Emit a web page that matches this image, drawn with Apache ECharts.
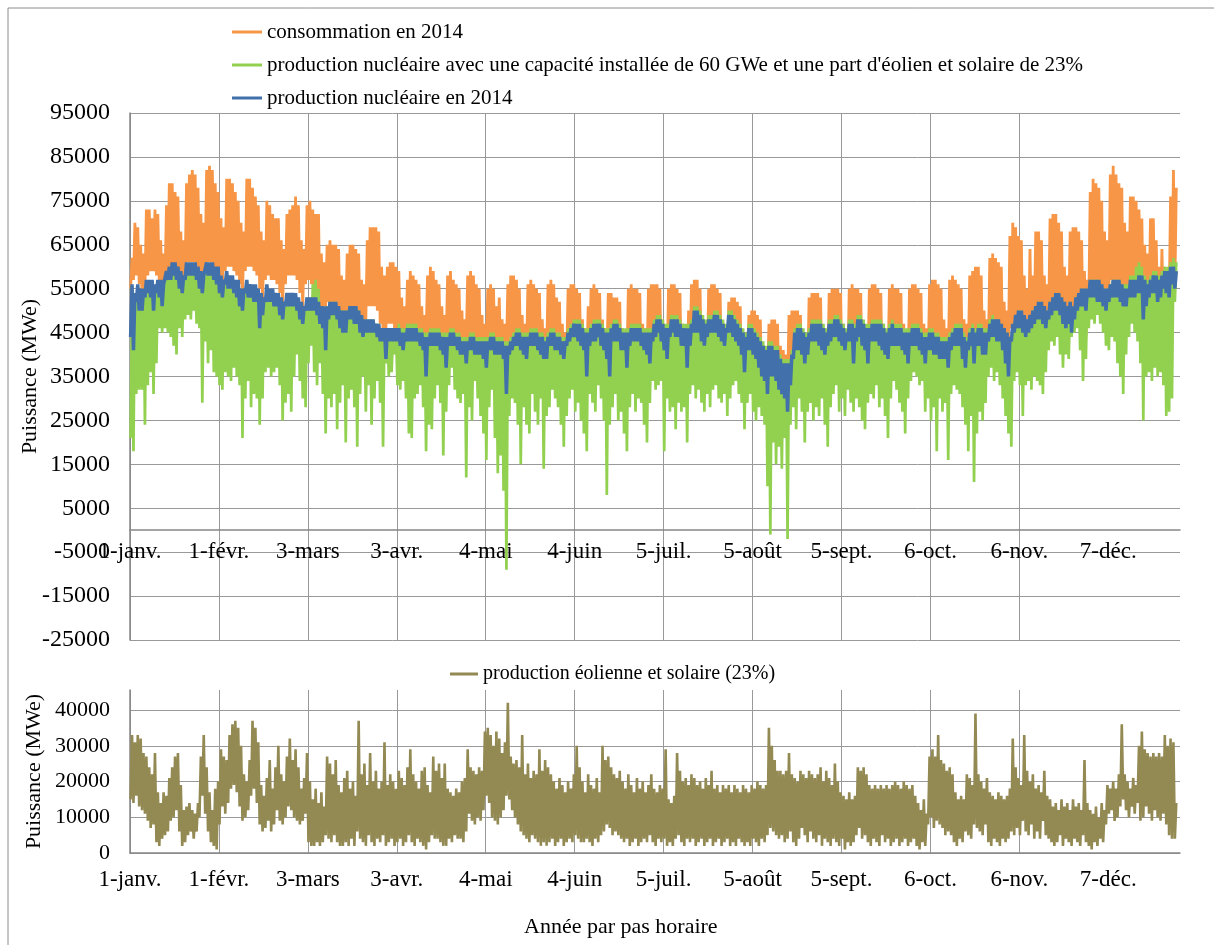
<!DOCTYPE html>
<html>
<head>
<meta charset="utf-8">
<script src="https://cdn.jsdelivr.net/npm/echarts@6/dist/echarts.min.js"></script>
<style>
  html, body { margin: 0; padding: 0; background: #fff; }
  #chart { width: 1214px; height: 945px; }
</style>
</head>
<body>
<div id="chart"></div>
<script>
// Valeurs journalières, en GWe (x1000 = MWe).
// Une ligne = une semaine (mer. -> mar.), le 1er janvier 2014 étant un mercredi.
const tickHours = [0, 744, 1488, 2232, 2976, 3720, 4464, 5208, 5952, 6696, 7440, 8184];
const monthLabels = ['1-janv.', '1-févr.', '3-mars', '3-avr.', '4-mai', '4-juin', '5-juil.', '5-août', '5-sept.', '6-oct.', '6-nov.', '7-déc.'];

const consoMax = [
  62,70,69,65,63,73,73, 71,73,72,66,63,74,79, 79,77,76,68,66,79,81, 82,81,78,72,70,82,83,
  82,79,77,71,69,80,80, 79,77,75,70,68,80,80, 78,76,74,68,66,75,74, 72,71,71,66,64,72,73,
  74,76,74,66,64,74,75, 73,72,72,63,61,65,66, 65,65,64,58,57,63,65, 65,64,63,57,56,66,69,
  69,69,68,60,58,60,61, 61,60,59,53,51,57,59, 58,57,56,51,49,58,60, 59,57,56,51,49,58,59,
  57,56,55,50,48,58,59, 58,56,55,49,47,55,56, 55,51,53,48,47,56,58, 58,57,55,49,47,56,57,
  56,55,54,48,46,56,57, 56,53,52,47,45,55,56, 56,55,54,48,46,51,55, 56,55,54,48,46,54,54,
  53,53,52,46,45,55,56, 55,55,54,47,46,55,56, 56,56,55,48,46,55,56, 56,55,54,47,45,50,56,
  57,57,55,47,45,55,56, 56,55,54,47,45,52,53, 53,52,51,45,43,49,50, 50,49,48,42,41,47,48,
  48,47,42,41,40,49,50, 50,50,49,43,42,53,54, 54,54,53,46,45,54,55, 55,55,54,47,45,55,56,
  55,55,54,47,45,55,56, 56,55,54,47,45,55,56, 55,55,54,47,45,55,56, 56,55,54,47,46,56,57,
  57,56,55,48,46,57,58, 57,56,55,48,47,58,59, 60,60,58,50,48,62,63, 62,61,60,52,50,67,70,
  69,67,66,58,55,64,58, 68,68,66,58,56,71,72, 72,70,68,60,58,68,69, 69,68,66,59,57,77,80,
  79,78,75,68,66,81,83, 81,79,78,70,68,76,76, 75,73,71,65,63,71,71, 66,60,64,60,58,76,82,
  78
];
const consoMin = [
  55,57,58,56,53,55,58, 59,59,58,56,53,57,59, 60,60,59,57,54,59,61, 61,61,60,58,55,60,61,
  61,60,59,57,54,59,60, 60,59,58,56,53,59,60, 60,59,58,55,52,57,58, 57,57,56,54,51,56,58,
  58,58,57,54,51,56,57, 56,55,54,51,48,51,52, 51,51,50,48,45,48,50, 50,50,49,46,44,48,51,
  51,51,50,47,44,46,47, 47,46,45,43,40,44,45, 45,44,44,42,39,44,45, 45,44,43,41,39,43,44,
  44,43,43,41,38,43,44, 43,42,42,40,37,41,42, 42,40,41,39,37,41,42, 42,41,41,39,36,40,41,
  41,40,40,38,36,40,41, 40,39,39,37,35,39,40, 40,39,39,37,35,37,39, 40,39,38,36,34,38,39,
  39,38,38,36,34,38,39, 39,38,38,36,34,38,39, 39,38,37,35,34,37,38, 38,37,37,35,33,35,37,
  38,37,36,35,33,37,38, 37,37,36,34,33,36,36, 36,35,35,33,32,34,35, 35,34,34,32,31,33,34,
  34,33,32,31,30,33,34, 35,35,34,32,31,35,36, 37,37,36,34,32,36,37, 38,38,37,35,33,37,38,
  38,38,37,35,33,37,38, 38,38,37,35,33,37,38, 38,38,37,35,33,37,38, 38,38,37,35,34,38,39,
  39,38,38,36,34,39,40, 40,39,39,37,35,40,41, 42,42,41,39,36,42,43, 43,43,42,40,38,43,46,
  47,47,46,43,41,45,44, 47,48,47,45,42,48,49, 50,49,48,46,43,48,49, 49,49,48,46,44,52,55,
  55,55,54,51,48,55,57, 57,56,55,52,49,54,55, 54,54,53,50,47,52,53, 51,49,48,47,45,51,54,
  55
];

const nuc14Max = [
  56,54,56,55,55,57,57, 57,56,57,57,56,59,60, 61,61,60,59,58,61,61, 61,61,60,59,58,61,61,
  61,60,60,58,57,59,58, 58,57,57,55,55,57,56, 56,56,55,54,53,56,55, 55,54,54,53,52,54,54,
  54,54,53,52,51,53,53, 53,53,52,51,51,51,52, 52,52,51,50,50,50,51, 51,51,50,49,48,48,48,
  48,47,47,46,46,46,46, 46,46,46,45,45,46,46, 46,46,45,45,44,44,45, 45,45,45,44,44,44,45,
  45,44,44,43,43,43,44, 44,43,43,43,43,43,44, 44,43,43,43,42,42,43, 44,45,45,44,44,44,45,
  45,45,44,44,43,44,45, 45,44,44,43,43,45,46, 47,47,47,46,45,45,46, 47,47,47,46,45,45,46,
  47,47,46,45,45,45,46, 46,46,46,45,45,45,45, 47,48,48,47,46,46,48, 48,48,47,46,46,46,47,
  50,50,49,48,47,48,48, 49,49,48,47,46,49,49, 48,47,46,45,44,46,46, 45,44,43,42,41,42,42,
  41,41,39,38,38,38,40, 45,46,46,45,44,45,47, 47,47,47,46,45,47,47, 48,48,47,46,45,47,47,
  46,48,48,47,46,46,47, 47,47,47,46,45,46,47, 46,46,46,45,45,45,46, 46,46,45,44,44,45,45,
  44,44,43,43,43,44,45, 46,46,46,44,43,45,46, 45,46,46,45,45,47,48, 48,48,47,46,45,44,47,
  49,50,50,49,48,49,50, 51,52,52,51,50,52,53, 54,54,53,52,51,52,51, 53,54,55,55,55,57,57,
  57,57,56,55,55,56,57, 57,57,56,55,55,57,57, 57,58,58,57,56,57,58, 58,57,58,59,59,60,60,
  59
];
const nuc14Min = [
  44,41,52,50,50,53,54, 53,50,54,53,51,56,57, 57,58,57,55,54,57,58, 58,58,57,55,54,58,58,
  58,57,56,54,53,56,55, 55,54,53,51,50,54,53, 53,52,52,46,49,52,52, 52,51,51,49,48,51,51,
  51,51,50,48,47,50,50, 50,50,49,47,46,41,48, 49,49,48,46,45,45,48, 48,47,47,45,44,45,45,
  45,45,44,43,43,39,43, 43,43,43,42,41,43,43, 43,43,43,42,41,35,42, 42,42,42,41,40,37,42,
  42,42,41,40,40,38,41, 41,40,40,40,39,37,41, 41,40,40,40,39,31,40, 41,42,42,41,40,39,42,
  42,42,41,40,39,39,42, 42,41,41,40,39,42,43, 44,44,43,42,41,35,42, 43,43,44,42,41,39,35,
  43,43,43,41,41,37,42, 43,43,43,42,41,40,38, 43,44,45,43,41,39,44, 45,44,44,42,42,37,42,
  45,45,45,43,42,44,45, 45,45,44,43,42,45,45, 44,43,42,40,36,41,41, 40,39,37,35,34,31,35,
  35,34,32,31,30,27,33, 39,41,41,40,38,40,43, 43,43,42,41,40,42,43, 44,44,43,42,41,43,43,
  38,43,44,42,41,38,43, 43,43,42,41,40,39,42, 42,42,42,41,40,38,42, 42,42,41,40,38,41,41,
  40,40,39,39,39,37,41, 42,42,42,39,37,41,42, 38,42,42,40,40,43,44, 44,43,43,41,38,35,43,
  45,46,46,45,44,45,46, 47,48,48,47,46,48,49, 50,50,49,47,46,47,45, 48,50,51,51,50,53,53,
  53,52,52,51,50,52,53, 53,53,52,51,51,53,53, 53,54,54,48,51,53,54, 54,52,53,55,54,53,56,
  55
];

const nuc60Max = [
  55,53,55,54,54,56,56, 56,55,56,56,55,58,59, 60,60,59,58,57,60,60, 60,60,59,58,57,60,60,
  60,59,59,57,56,58,57, 57,56,56,54,54,56,55, 55,55,54,53,52,55,54, 54,53,53,52,51,53,53,
  53,53,52,51,51,53,53, 56,57,55,51,51,51,52, 52,52,51,50,50,50,51, 51,51,50,49,48,48,48,
  48,47,47,46,46,46,46, 46,46,47,46,46,47,47, 47,47,46,46,45,45,46, 46,46,46,45,45,45,46,
  46,45,45,44,44,44,45, 45,44,44,44,44,44,45, 45,44,44,44,43,43,44, 45,46,46,45,45,45,46,
  46,46,45,45,44,45,46, 46,45,45,44,44,46,47, 48,48,48,47,46,46,47, 48,48,48,47,46,46,47,
  48,48,47,46,46,46,47, 47,47,47,46,46,46,46, 48,49,49,48,47,47,49, 49,49,48,47,47,47,48,
  51,51,50,49,48,49,49, 50,50,49,48,47,50,50, 49,48,47,46,45,47,47, 46,45,44,43,42,43,43,
  42,42,40,39,39,39,41, 46,47,47,46,45,46,48, 48,48,48,47,46,48,48, 49,49,48,47,46,48,48,
  47,49,49,48,47,47,48, 48,48,48,47,46,47,48, 47,47,47,46,46,46,47, 47,47,46,45,45,46,46,
  45,45,44,44,44,45,46, 47,47,47,45,44,46,47, 46,47,47,46,46,48,49, 48,48,47,46,45,44,47,
  49,50,50,49,48,49,50, 51,52,52,51,50,52,53, 54,54,53,52,51,52,51, 53,54,55,55,55,57,57,
  57,57,56,55,55,56,57, 57,57,56,56,56,58,58, 60,61,60,58,57,58,59, 59,58,59,60,60,61,62,
  61
];
const nuc60Min = [
  21,18,31,32,32,24,33, 36,31,38,46,45,46,45, 44,42,40,46,44,48,49, 48,50,47,46,29,43,38,
  41,36,35,33,32,36,35, 34,37,35,33,21,30,34, 28,31,30,24,30,36,37, 35,36,37,33,25,29,31,
  27,35,40,34,30,28,38, 42,36,33,38,31,22,30, 28,31,23,29,33,20,30, 32,28,19,31,35,27,33,
  24,30,34,29,19,38,35, 36,40,33,32,34,30,22, 21,30,31,33,28,18,24, 23,30,33,29,17,27,33,
  37,32,30,29,31,12,28, 25,34,30,26,22,16,28, 32,21,13,17,9,-9,26, 30,29,24,15,28,24,22,
  31,27,24,30,14,26,28, 32,30,28,24,19,26,30, 32,27,29,25,22,18,31, 29,27,33,30,25,8,24,
  28,31,25,27,22,18,28, 31,27,30,29,24,20,29, 34,32,33,34,18,30,27, 28,23,29,27,28,20,31,
  33,30,32,29,27,31,28, 32,33,30,29,31,26,30, 33,34,31,29,23,29,31, 27,25,28,26,24,10,-1,
  20,15,19,14,21,-2,24, 28,23,30,27,20,27,29, 25,28,26,30,24,19,28, 31,33,27,30,26,32,29,
  27,30,28,25,23,29,31, 30,33,28,30,26,21,30, 34,32,29,27,22,30,34, 36,35,33,34,27,30,25,
  28,18,30,27,29,16,31, 33,32,31,28,24,18,26, 11,22,27,25,29,35,37, 34,36,33,30,26,22,19,
  34,36,33,26,33,34,32, 35,34,33,31,36,41,43, 42,44,40,37,40,39,44, 45,46,41,34,39,46,48,
  47,49,47,45,42,41,44, 43,38,35,31,40,44,47, 45,43,38,25,35,36,34, 37,35,36,33,26,27,30,
  52
];

const renewMax = [
  33,31,33,32,28,27,24, 22,28,17,14,17,16,21, 24,27,28,19,12,13,14, 12,11,14,27,33,24,17,
  12,18,20,29,27,26,33, 36,37,35,30,22,20,26, 37,35,31,19,16,21,26, 18,24,30,22,20,27,32,
  26,29,24,18,21,28,20, 15,18,14,17,13,27,25, 22,26,19,17,21,23,18, 20,16,37,22,25,19,28,
  20,23,18,20,31,19,22, 20,18,23,21,19,24,29, 22,20,18,23,24,19,17, 27,23,25,21,25,18,17,
  16,18,17,20,21,29,24, 23,22,24,23,34,35,33, 30,34,32,28,31,42,27, 25,26,24,33,22,25,21,
  23,22,29,23,26,24,22, 20,18,21,19,17,20,18, 22,30,24,20,17,22,19, 18,21,17,30,26,27,24,
  22,21,23,20,18,22,19, 17,21,18,20,17,19,22, 18,17,19,18,29,15,14, 16,28,23,20,21,19,22,
  21,19,20,18,21,19,23, 18,19,17,19,18,19,17, 19,18,17,19,18,17,19, 18,20,19,18,19,35,30,
  26,23,23,22,23,28,22, 21,20,23,22,21,23,22, 21,22,24,20,23,21,19, 25,20,17,16,15,17,15,
  16,24,23,24,22,19,18, 19,18,19,18,19,18,19, 20,19,18,20,19,18,19, 16,14,12,15,11,27,29,
  27,33,26,25,23,24,22, 17,15,16,15,22,21,19, 39,22,20,18,21,17,16, 15,17,16,15,16,18,32,
  24,21,19,33,23,20,22, 18,19,17,23,16,15,13, 14,12,15,13,14,12,15, 13,14,12,26,14,12,11,
  13,10,14,12,19,18,20, 18,22,36,22,20,18,21, 19,30,34,29,28,27,28, 27,28,27,33,30,32,31,
  14
];
const renewMin = [
  15,14,16,13,12,11,9, 7,8,3,2,4,5,6, 9,10,12,6,2,3,5, 6,4,6,10,16,11,6,
  3,2,1,8,13,11,14, 18,19,17,13,9,10,12, 16,18,14,8,6,7,9, 6,8,12,9,8,10,13,
  12,10,9,8,9,11,3, 2,2,3,2,3,5,4, 3,5,3,2,2,3,2, 4,2,6,4,3,2,5,
  3,2,4,3,5,2,3, 4,2,3,4,2,3,5, 3,2,4,3,2,1,3, 5,4,4,3,2,2,4,
  3,5,4,4,3,6,11, 9,8,10,9,12,16,14, 10,9,8,10,12,16,15, 12,10,8,6,5,4,3,
  5,4,3,2,3,2,3, 4,2,3,4,2,3,4, 3,5,4,3,3,4,3, 2,4,3,5,6,8,7,
  5,6,5,4,3,4,2, 3,4,2,3,4,3,5, 3,2,4,3,4,2,3, 2,4,5,3,2,4,3,
  4,2,3,4,2,3,4, 2,3,4,2,3,4,2, 3,2,4,3,2,3,2, 4,3,2,4,3,5,7,
  6,5,4,5,3,4,6, 3,2,4,7,5,3,6, 4,3,5,2,4,3,2, 4,3,2,4,1,3,2,
  3,5,7,4,5,3,2, 4,3,2,5,3,4,2, 3,4,2,3,4,2,3, 4,2,1,3,2,8,10,
  7,9,8,7,5,6,5, 3,2,4,3,6,5,4, 8,7,6,5,8,3,2, 4,3,2,4,3,4,6,
  5,7,5,9,6,5,8, 4,6,4,9,5,4,3, 2,3,5,2,4,3,2, 4,3,2,5,3,2,1,
  3,2,4,3,8,11,12, 9,10,13,15,12,10,13, 11,14,9,10,13,11,9, 12,10,9,11,8,5,4,
  4
];

const serif = "'Liberation Serif', 'Times New Roman', serif";
const gridColor = '#999999';
const axisColor = '#868686';

// creux de la nuit puis pointe de la journée, pour chaque jour
function dailyPoints(lows, highs) {
  const pts = [];
  for (let d = 0; d < lows.length; d++) {
    pts.push([d * 24 + 5, lows[d] * 1000]);
    pts.push([d * 24 + 17, highs[d] * 1000]);
  }
  return pts;
}

const monthLabel = (v) => {
  const i = tickHours.indexOf(v);
  return i >= 0 ? monthLabels[i] : '';
};

const xAxisBase = (gridIndex, margin, offset) => ({
  gridIndex,
  type: 'value',
  min: 0,
  max: 8784,
  offset,
  axisLine: { show: true, onZero: false, lineStyle: { color: axisColor, width: 1.5 } },
  axisTick: { show: false, customValues: tickHours },
  axisLabel: {
    customValues: tickHours,
    formatter: monthLabel,
    color: '#000',
    fontSize: 23,
    fontFamily: serif,
    margin,
  },
  splitLine: { show: true, showMaxLine: false, lineStyle: { color: gridColor, width: 1 } },
});

const chart = echarts.init(document.getElementById('chart'));
chart.setOption({
  animation: false,
  backgroundColor: '#fff',
  title: {
    text: 'Année par pas horaire',
    left: 524,
    top: 916,
    padding: 0,
    textStyle: { fontFamily: serif, fontSize: 22, fontWeight: 'normal', color: '#000' },
  },
  legend: [
    {
      data: ['consommation en 2014',
        "production nucléaire avec une capacité installée de 60 GWe et une part d'éolien et solaire de 23%",
        'production nucléaire en 2014'],
      orient: 'vertical',
      left: 232,
      top: 20,
      icon: 'rect',
      itemWidth: 30,
      itemHeight: 3,
      itemGap: 9,
      padding: 0,
      textStyle: { fontFamily: serif, fontSize: 21, color: '#000', lineHeight: 24 },
    },
    {
      data: ['production éolienne et solaire (23%)'],
      left: 450,
      top: 662,
      icon: 'rect',
      itemWidth: 28,
      itemHeight: 3,
      padding: 0,
      textStyle: { fontFamily: serif, fontSize: 20, color: '#000', lineHeight: 24 },
    },
  ],
  graphic: [
    {
      type: 'polyline',
      shape: { points: [[8, 945], [8, 8], [1214, 8]] },
      style: { fill: 'none', stroke: '#8c8c8c', lineWidth: 1 },
      silent: true,
    },
  ],
  grid: [
    { left: 130, top: 113, width: 1050, height: 527 },
    { left: 130, top: 690, width: 1050, height: 163 },
  ],
  // l'axe des dates du haut passe par la valeur 0
  xAxis: [xAxisBase(0, 10, -109.8), xAxisBase(1, 15, 0)],
  yAxis: [
    {
      gridIndex: 0,
      type: 'value',
      min: -25000,
      max: 95000,
      interval: 10000,
      name: 'Puissance (MWe)',
      nameLocation: 'middle',
      nameRotate: 90,
      nameGap: 89,
      nameMoveOverlap: false,
      nameTextStyle: { fontFamily: serif, fontSize: 22, color: '#000' },
      axisLine: { show: true, lineStyle: { color: axisColor, width: 1.5 } },
      axisTick: { show: false },
      axisLabel: { formatter: (v) => String(v), fontFamily: serif, fontSize: 24, color: '#000', margin: 20 },
      splitLine: { show: true, lineStyle: { color: gridColor, width: 1 } },
    },
    {
      gridIndex: 1,
      type: 'value',
      min: 0,
      max: 45600,
      interval: 10000,
      name: 'Puissance (MWe)',
      nameLocation: 'middle',
      nameRotate: 90,
      nameGap: 85,
      nameMoveOverlap: false,
      nameTextStyle: { fontFamily: serif, fontSize: 22, color: '#000' },
      axisLine: { show: true, lineStyle: { color: axisColor, width: 1.5 } },
      axisTick: { show: false },
      axisLabel: {
        formatter: (v) => (v % 10000 === 0 ? String(v) : ''),
        showMaxLabel: false,
        fontFamily: serif, fontSize: 22, color: '#000', margin: 20,
      },
      splitLine: { show: true, showMaxLine: false, lineStyle: { color: gridColor, width: 1 } },
    },
  ],
  series: [
    {
      name: 'consommation en 2014',
      type: 'line',
      xAxisIndex: 0,
      yAxisIndex: 0,
      showSymbol: false,
      color: '#F79646',
      lineStyle: { width: 2.8 },
      data: dailyPoints(consoMin, consoMax),
    },
    {
      name: "production nucléaire avec une capacité installée de 60 GWe et une part d'éolien et solaire de 23%",
      type: 'line',
      xAxisIndex: 0,
      yAxisIndex: 0,
      showSymbol: false,
      color: '#92D050',
      lineStyle: { width: 2.7 },
      data: dailyPoints(nuc60Min, nuc60Max),
    },
    {
      name: 'production nucléaire en 2014',
      type: 'line',
      xAxisIndex: 0,
      yAxisIndex: 0,
      showSymbol: false,
      color: '#4170AA',
      lineStyle: { width: 3.5 },
      data: dailyPoints(nuc14Min, nuc14Max),
    },
    {
      name: 'production éolienne et solaire (23%)',
      type: 'line',
      xAxisIndex: 1,
      yAxisIndex: 1,
      showSymbol: false,
      clip: false,
      color: '#938953',
      lineStyle: { width: 2.6 },
      data: dailyPoints(renewMin, renewMax),
    },
  ],
});
</script>
</body>
</html>
